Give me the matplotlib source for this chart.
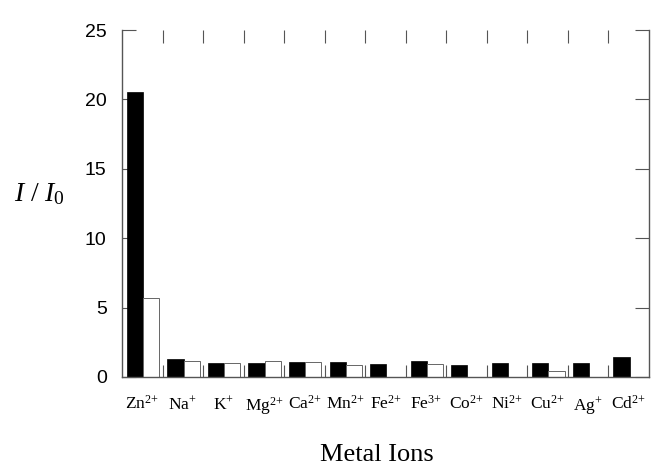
import numpy as np
import matplotlib
matplotlib.use('Agg')
import matplotlib.pyplot as plt

# mathtext in serif for the ion labels and the y label
plt.rcParams['mathtext.fontset'] = 'custom'
plt.rcParams['mathtext.rm'] = 'Liberation Serif'
plt.rcParams['mathtext.it'] = 'Liberation Serif:italic'

ions = [r'Zn$^{2{+}}$', r'Na$^{+}$', r'K$^{+}$', r'Mg$^{2{+}}$', r'Ca$^{2{+}}$',
        r'Mn$^{2{+}}$', r'Fe$^{2{+}}$', r'Fe$^{3{+}}$', r'Co$^{2{+}}$', r'Ni$^{2{+}}$',
        r'Cu$^{2{+}}$', r'Ag$^{+}$', r'Cd$^{2{+}}$']
black_vals = [20.5, 1.29, 1.0, 1.0, 1.1, 1.05, 0.93, 1.12, 0.86, 0.98, 0.98, 0.98, 1.41]
white_vals = [5.7, 1.12, 0.98, 1.12, 1.1, 0.86, 0.0, 0.9, 0.0, 0.0, 0.43, 0.0, 0.0]
y_ticks = [0, 5, 10, 15, 20, 25]

fig = plt.figure(figsize=(6.53, 4.69), dpi=100)
ax = fig.add_axes([0.1868, 0.1962, 0.8071, 0.7398])

x = np.arange(len(ions))
w = 0.4
ax.bar(x - 0.38, black_vals, width=w, align='edge', color='black',
       edgecolor='black', linewidth=0.5, zorder=2)
ax.bar(x + 0.02, white_vals, width=w, align='edge', color='white',
       edgecolor='#666666', linewidth=0.7, zorder=2)

ax.set_xlim(-0.5, len(ions) - 0.5)
ax.set_ylim(0, 25)

ax.set_xticks(x)
ax.set_xticklabels(ions, fontsize=12.5, family='Liberation Serif')
ax.set_xticks(np.arange(len(ions) - 1) + 0.5, minor=True)
ax.tick_params(axis='x', which='major', length=0, pad=13)
ax.tick_params(axis='x', which='minor', direction='in', length=9,
               top=True, bottom=True, color='#555555', width=0.8)

ax.set_yticks(y_ticks)
ax.set_yticklabels([str(v) for v in y_ticks], family='Liberation Sans')
ax.tick_params(axis='y', which='major', direction='in', length=10,
               left=True, right=True, labelsize=14, pad=11,
               color='#555555', width=0.8)

for s in ['left', 'right', 'bottom']:
    ax.spines[s].set_color('#555555')
    ax.spines[s].set_linewidth(1.0)
ax.spines['top'].set_visible(False)

fig.text(0.06, 0.588, r'$I\ /\ I_{\mathrm{0}}$', fontsize=20,
         ha='center', va='center')
fig.text(0.577, 0.03, 'Metal Ions', fontsize=19, family='Liberation Serif',
         ha='center', va='center')

fig.savefig('out.png', dpi=100)
